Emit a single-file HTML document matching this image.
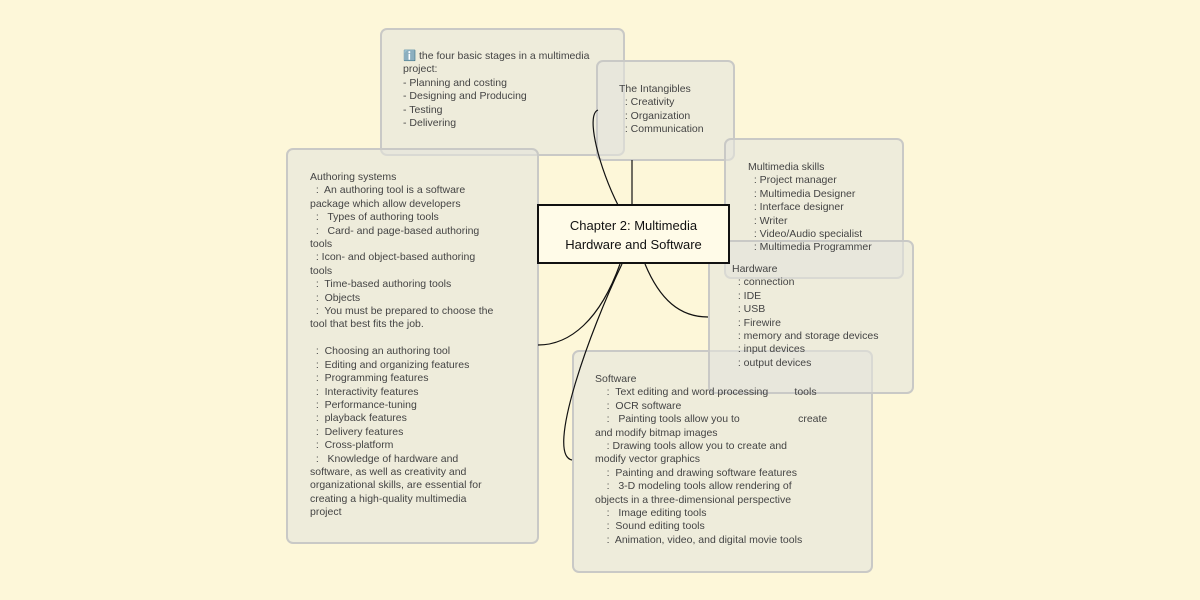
<!DOCTYPE html>
<html><head><meta charset="utf-8"><style>
body{margin:0;width:1200px;height:600px;background:#fdf7d9;position:relative;overflow:hidden;font-family:"Liberation Sans",sans-serif;}
.b{position:absolute;box-sizing:border-box;border:2px solid #c9c9c6;border-radius:7px;background:rgba(228,228,220,0.6);z-index:1;}
.t{position:absolute;font-size:10.5px;line-height:13.4px;color:#444;white-space:pre;z-index:5;}
.c{position:absolute;left:537px;top:204px;width:193px;height:60px;box-sizing:border-box;border:2px solid #111;background:#fffbe8;font-size:13px;line-height:19px;text-align:center;padding-top:10px;color:#111;z-index:6;}
svg{z-index:3}
</style></head><body>
<svg width="1200" height="600" style="position:absolute;left:0;top:0">
<g fill="none" stroke="#111" stroke-width="1.2">
<path d="M618,205 C600,170 585,115 598,110"/>
<path d="M632,205 L632,160"/>
<path d="M620,264 C600,320 570,345 538,345"/>
<path d="M645,264 C660,300 680,317 708,317"/>
<path d="M622,264 C590,330 545,455 572,460"/>
</g></svg>
<div class="b" style="left:380px;top:28px;width:245px;height:128px"></div>
<div class="t" style="left:403px;top:50px">ℹ️ the four basic stages in a multimedia
project:
- Planning and costing
- Designing and Producing
- Testing
- Delivering</div>
<div class="b" style="left:596px;top:60px;width:139px;height:101px"></div>
<div class="t" style="left:619px;top:83px">The Intangibles
  : Creativity
  : Organization
  : Communication</div>
<div class="b" style="left:286px;top:148px;width:253px;height:396px"></div>
<div class="t" style="left:310px;top:171px">Authoring systems
  :  An authoring tool is a software
package which allow developers
  :   Types of authoring tools
  :   Card- and page-based authoring
tools
  : Icon- and object-based authoring
tools
  :  Time-based authoring tools
  :  Objects
  :  You must be prepared to choose the
tool that best fits the job.

  :  Choosing an authoring tool
  :  Editing and organizing features
  :  Programming features
  :  Interactivity features
  :  Performance-tuning
  :  playback features
  :  Delivery features
  :  Cross-platform
  :   Knowledge of hardware and
software, as well as creativity and
organizational skills, are essential for
creating a high-quality multimedia
project</div>
<div class="b" style="left:724px;top:138px;width:180px;height:141px"></div>
<div class="t" style="left:748px;top:161px">Multimedia skills
  : Project manager
  : Multimedia Designer
  : Interface designer
  : Writer
  : Video/Audio specialist
  : Multimedia Programmer</div>
<div class="b" style="left:572px;top:350px;width:301px;height:223px"></div>
<div class="t" style="left:595px;top:373px">Software
    :  Text editing and word processing         tools
    :  OCR software
    :   Painting tools allow you to                    create
and modify bitmap images
    : Drawing tools allow you to create and
modify vector graphics
    :  Painting and drawing software features
    :   3-D modeling tools allow rendering of
objects in a three-dimensional perspective
    :   Image editing tools
    :  Sound editing tools
    :  Animation, video, and digital movie tools</div>
<div class="b" style="left:708px;top:240px;width:206px;height:154px"></div>
<div class="t" style="left:732px;top:263px">Hardware
  : connection
  : IDE
  : USB
  : Firewire
  : memory and storage devices
  : input devices
  : output devices</div>
<div class="c">Chapter 2: Multimedia<br>Hardware and Software</div>
</body></html>
